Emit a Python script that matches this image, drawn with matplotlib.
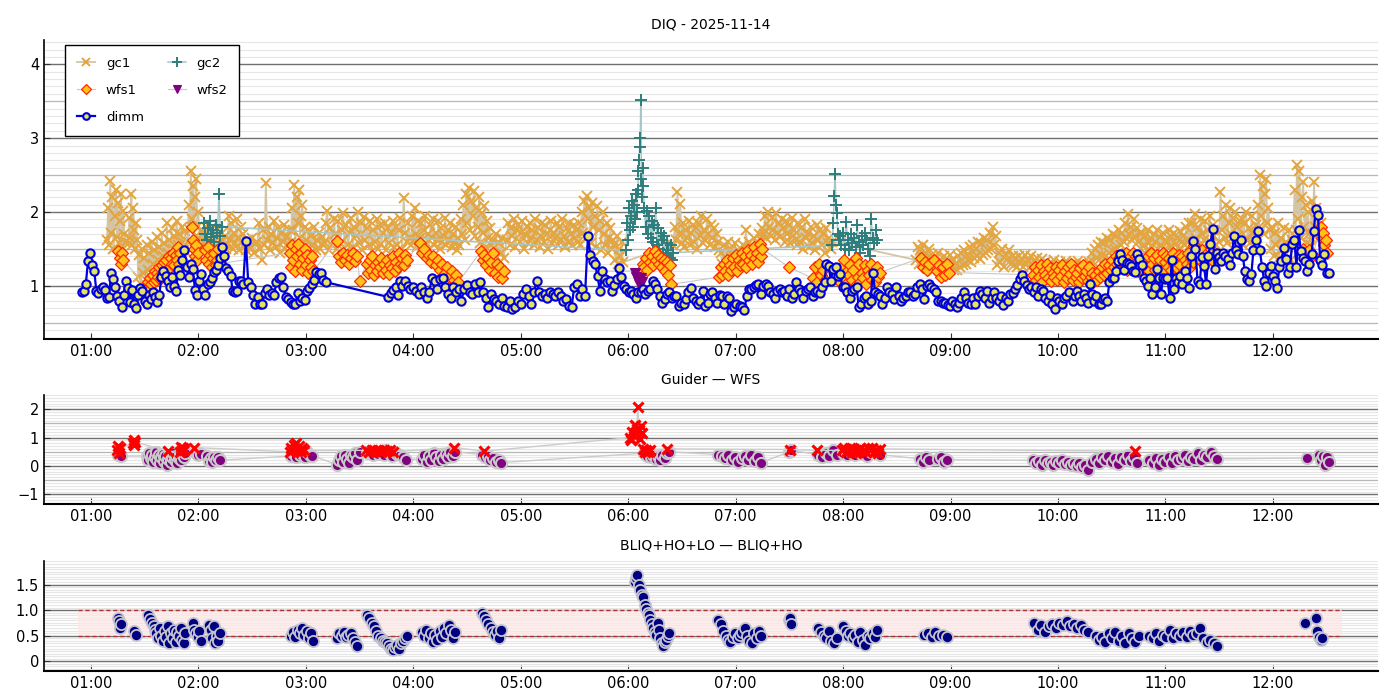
import numpy as np
import matplotlib
matplotlib.use("Agg")
import matplotlib.pyplot as plt
from matplotlib.ticker import MultipleLocator, FixedLocator, FixedFormatter

plt.rcParams['font.family'] = ['DejaVu Sans']

# ---------------- axis data ----------------
HOUR_TICKS = [1, 2, 3, 4, 5, 6, 7, 8, 9, 10, 11, 12]
HOUR_LABELS = ["01:00", "02:00", "03:00", "04:00", "05:00", "06:00",
               "07:00", "08:00", "09:00", "10:00", "11:00", "12:00"]
XLIM = (0.563, 12.98)

# ---------------- top panel: DIQ (time in hours, segments sampled at regular cadence) ----
DIMM_SEGS = [
    (0.914, 2.417, [0.92, 0.93, 1.03, 1.33, 1.44, 1.28, 1.20, 0.93, 0.90, 0.96,
                    0.98, 0.95, 0.84, 0.85, 1.18, 1.09, 0.98, 0.86, 0.80, 0.72,
                    0.88, 1.07, 0.97, 0.78, 0.95, 0.75, 0.70, 0.88, 0.97, 0.93,
                    0.80, 0.76, 0.87, 0.82, 0.91, 0.85, 0.78, 0.87, 1.12, 1.20,
                    1.14, 1.07, 0.98, 1.12, 1.00, 0.93, 1.21, 1.15, 1.35, 1.49,
                    1.26, 1.12, 1.30, 1.23, 0.95, 0.88, 1.06, 1.16, 0.96, 0.88,
                    1.03, 1.05, 1.10, 1.19, 1.22, 1.28, 1.38, 1.52, 1.40, 1.24,
                    1.20, 1.14, 0.93, 0.92, 0.93, 1.06, 1.07, 1.02]),
    (2.442, 3.186, [1.61, 1.05, 0.98, 0.88, 0.76, 0.85, 0.76, 0.76, 0.90, 0.96,
                    0.88, 0.90, 0.88, 1.05, 1.10, 1.12, 0.99, 0.85, 0.82, 0.78,
                    0.76, 0.75, 0.90, 0.80, 0.83, 0.81, 0.93, 0.97, 1.02, 1.08,
                    1.19, 1.16, 1.17, 1.08, 1.05]),
    (3.766, 3.859, [0.85, 0.90, 0.95, 0.99, 0.88]),
    (3.874, 5.598, [1.07, 1.00, 1.07, 1.00, 0.96, 0.99, 0.93, 0.89, 0.99, 0.91,
                    0.83, 0.92, 1.11, 1.07, 0.96, 1.09, 1.11, 0.98, 0.89, 0.84,
                    0.99, 0.91, 0.96, 0.80, 0.96, 1.01, 0.91, 0.89, 1.02, 0.91,
                    1.05, 0.91, 0.84, 0.72, 0.89, 0.82, 0.80, 0.75, 0.84, 0.73,
                    0.71, 0.80, 0.68, 0.71, 0.80, 0.76, 0.89, 0.96, 0.86, 0.75,
                    0.91, 1.06, 0.91, 0.86, 0.89, 0.84, 0.91, 0.89, 0.86, 0.91,
                    0.86, 0.80, 0.82, 0.73, 0.71, 0.98, 1.02, 0.86, 0.96, 0.86]),
    (5.626, 7.006, [1.68, 1.42, 1.34, 1.29, 1.13, 0.93, 1.20, 1.09, 1.05, 1.07,
                    0.93, 1.01, 1.09, 1.24, 1.12, 1.00, 0.96, 0.91, 0.93, 0.89,
                    0.84, 0.92, 0.91, 0.96, 0.89, 0.93, 0.96, 1.07, 1.02, 0.96,
                    0.86, 0.77, 0.82, 0.89, 0.91, 0.84, 0.86, 0.86, 0.73, 0.77,
                    0.75, 0.82, 0.91, 0.97, 0.84, 0.80, 0.75, 0.80, 0.93, 0.73,
                    0.77, 0.89, 0.91, 0.84, 0.77, 0.88, 0.86, 0.75, 0.86, 0.84,
                    0.66, 0.71, 0.75]),
    (7.037, 7.828, [0.73, 0.71, 0.67, 0.86, 0.96, 0.96, 0.99, 1.01, 1.03, 0.89,
                    1.00, 1.02, 1.00, 0.91, 0.89, 0.84, 0.93, 0.96, 0.91, 0.93,
                    0.86, 0.96, 0.84, 0.89, 1.05, 0.96, 0.91, 0.84, 0.93, 0.96,
                    0.98, 0.86, 0.91, 0.93, 0.90, 0.98, 1.05]),
    (7.843, 10.101, [1.29, 1.27, 1.07, 1.23, 1.25, 1.14, 1.16, 0.98, 0.98, 0.91,
                     0.84, 0.93, 0.96, 0.98, 0.71, 0.75, 0.84, 0.86, 0.75, 0.80,
                     1.18, 0.91, 0.89, 0.86, 0.75, 0.84, 0.98, 0.91, 0.89, 0.82,
                     0.98, 0.86, 0.80, 0.84, 0.86, 0.91, 0.92, 0.86, 0.89, 0.98,
                     1.03, 0.96, 0.82, 1.00, 1.02, 0.99, 0.96, 0.91, 0.80, 0.80,
                     0.77, 0.77, 0.74, 0.73, 0.80, 0.75, 0.71, 0.77, 0.83, 0.91,
                     0.84, 0.77, 0.75, 0.84, 0.75, 0.86, 0.93, 0.89, 0.84, 0.93,
                     0.77, 0.83, 0.91, 0.84, 0.80, 0.86, 0.74, 0.84, 0.80, 0.89,
                     0.90, 0.96, 1.01, 1.09, 1.15, 1.06, 1.01, 0.96, 0.98, 0.91,
                     0.98, 0.86, 0.96, 0.93, 0.84, 0.80, 0.88, 0.75, 0.68, 0.84,
                     0.80, 0.75, 0.84, 0.86, 0.91]),
    (10.138, 12.52, [0.80, 0.86, 0.93, 0.86, 0.80, 0.89, 0.84, 0.77, 1.02, 0.89,
                     0.80, 0.86, 0.76, 0.75, 0.82, 0.84, 0.80, 1.05, 1.10, 1.11,
                     1.20, 1.34, 1.43, 1.35, 1.21, 1.31, 1.29, 1.27, 1.20, 1.19,
                     1.43, 1.36, 1.28, 1.11, 1.07, 1.00, 1.11, 0.89, 0.98, 1.23,
                     1.11, 0.89, 1.11, 1.09, 1.11, 0.84, 1.35, 0.96, 1.11, 1.05,
                     1.14, 1.02, 1.20, 1.11, 0.97, 1.41, 1.61, 1.50, 1.07, 1.02,
                     1.39, 1.27, 1.02, 1.41, 1.57, 1.77, 1.23, 1.44, 1.39, 1.34,
                     1.45, 1.41, 1.36, 1.28, 1.44, 1.68, 1.48, 1.43, 1.62, 1.41,
                     1.20, 1.09, 1.07, 1.16, 1.48, 1.62, 1.74, 1.48, 1.25, 1.07,
                     1.00, 1.18, 1.27, 1.14, 1.07, 0.97, 1.25, 1.34, 1.51, 1.36,
                     1.17, 1.26, 1.57, 1.62, 1.25, 1.75, 1.47, 1.38, 1.34, 1.20,
                     1.29, 1.43, 1.74, 2.04, 1.96, 1.35, 1.28, 1.43, 1.18, 1.18]),
]

GC1_SEGS = [
    (1.15, 1.32, [1.62, 2.05, 1.55, 2.42, 1.72, 2.20, 1.50, 1.95, 2.30, 1.66, 2.12, 1.58,
                  1.88, 2.25, 1.52, 2.02, 1.70, 1.60]),
    (1.35, 1.43, [1.58, 1.92, 1.65, 2.25, 1.55, 2.05, 1.75, 1.50, 1.85, 1.62]),
    (1.44, 1.89, [1.12, 1.42, 1.02, 1.50, 1.18, 1.38, 1.08, 1.55, 1.22, 1.45, 1.12, 1.60,
                  1.30, 1.48, 1.15, 1.66, 1.35, 1.52, 1.20, 1.72, 1.40, 1.58, 1.25, 1.85,
                  1.45, 1.62, 1.32, 1.78, 1.50, 1.68, 1.38, 1.88, 1.55, 1.70, 1.42, 1.80,
                  1.60, 1.48, 1.74, 1.45]),
    (1.90, 2.01, [1.60, 2.10, 1.75, 2.56, 1.90, 2.35, 1.55, 2.20, 2.45, 1.80, 2.00, 1.65]),
    (2.02, 2.26, [1.55, 1.75, 1.48, 1.68, 1.80, 1.52, 1.62, 1.45, 1.78, 1.58, 1.70, 1.50,
                  1.65, 1.75, 1.48, 1.60, 1.72, 1.55, 1.68, 1.50]),
    (2.27, 2.43, [1.55, 1.95, 1.62, 1.85, 1.50, 1.72, 1.58, 1.90, 1.65, 1.48, 1.80, 1.60,
                  1.70, 1.52]),
    (2.44, 2.54, [1.48, 1.62, 1.52, 1.65, 1.45, 1.58]),
    (2.55, 2.85, [1.60, 1.85, 1.50, 1.35, 1.75, 1.55, 2.39, 1.62, 1.80, 1.48, 1.70, 1.58,
                  1.88, 1.52, 1.65, 1.78, 1.45, 1.72, 1.60, 1.82, 1.50, 1.68, 1.56, 1.75]),
    (2.86, 3.00, [1.60, 2.05, 1.75, 2.36, 1.55, 2.20, 1.85, 2.30, 1.65, 1.95, 2.10, 1.52,
                  1.80, 1.62]),
    (3.01, 3.16, [1.50, 1.75, 1.45, 1.68, 1.55, 1.80, 1.48, 1.62, 1.72, 1.50, 1.66, 1.55]),
    (3.17, 3.97, [1.60, 1.85, 2.02, 1.48, 1.78, 1.55, 1.90, 1.70, 1.50, 1.88, 1.58, 1.75,
                  1.99, 1.46, 1.82, 1.55, 1.72, 1.92, 1.52, 1.80, 1.68, 2.00, 1.58, 1.85,
                  1.48, 1.93, 1.62, 1.78, 1.55, 1.88, 1.47, 1.75, 1.60, 1.90, 1.50, 1.82,
                  1.56, 1.72, 1.85, 1.48, 1.78, 1.58, 1.70, 1.88, 1.52, 1.80, 1.55, 1.75,
                  1.92, 1.50, 2.19, 1.72, 1.60, 1.85, 1.65]),
    (3.98, 4.06, [1.55, 1.95, 1.62, 2.05, 1.70, 1.52, 1.88, 1.65]),
    (4.06, 4.42, [1.60, 1.85, 1.52, 1.75, 1.95, 1.58, 1.70, 1.50, 1.82, 1.65, 1.90, 1.55,
                  1.72, 1.62, 1.88, 1.50, 1.78, 1.60, 1.68, 1.92, 1.55, 1.75, 1.62, 1.85,
                  1.52, 1.70, 1.58, 1.80, 1.48, 1.65]),
    (4.43, 4.71, [1.55, 1.90, 1.70, 2.10, 1.62, 2.25, 1.85, 2.33, 1.75, 2.15, 1.95, 2.28,
                  1.68, 2.05, 1.80, 2.20, 1.58, 1.98, 1.72, 2.08, 1.52, 1.88, 1.65, 1.78]),
    (4.72, 4.84, [1.55, 1.35, 1.62, 1.42, 1.70, 1.30, 1.58, 1.45, 1.65, 1.38]),
    (4.87, 5.52, [1.62, 1.85, 1.55, 1.78, 1.68, 1.90, 1.52, 1.75, 1.82, 1.60, 1.72, 1.88,
                  1.50, 1.70, 1.80, 1.58, 1.85, 1.65, 1.75, 1.55, 1.90, 1.62, 1.78, 1.52,
                  1.68, 1.85, 1.60, 1.82, 1.70, 1.50, 1.75, 1.88, 1.58, 1.72, 1.65, 1.85,
                  1.55, 1.80, 1.62, 1.90, 1.68, 1.52, 1.78, 1.60, 1.85, 1.70, 1.55, 1.82,
                  1.65, 1.75]),
    (5.53, 5.86, [1.60, 1.85, 1.55, 2.00, 1.72, 2.15, 1.65, 2.22, 1.90, 2.05, 1.58, 2.12,
                  1.80, 1.95, 1.52, 2.08, 1.75, 1.88, 1.48, 2.00, 1.70, 1.55, 1.85, 1.45,
                  1.65, 1.78, 1.50, 1.62]),
    (5.87, 5.95, [1.55, 1.35, 1.68, 1.30, 1.50, 1.40, 1.60, 1.32]),
    (6.42, 6.85, [1.55, 1.80, 1.62, 2.27, 1.70, 2.11, 1.58, 1.85, 1.52, 1.75, 1.65, 1.88,
                  1.55, 1.72, 1.82, 1.60, 1.78, 1.50, 1.85, 1.68, 1.95, 1.58, 1.75, 1.62,
                  1.90, 1.70, 1.55, 1.82, 1.65, 1.78, 1.52, 1.70, 1.60, 1.48]),
    (6.86, 7.04, [1.45, 1.30, 1.55, 1.38, 1.60, 1.32, 1.50, 1.42, 1.58, 1.35, 1.48, 1.40]),
    (7.05, 7.25, [1.40, 1.55, 1.32, 1.75, 1.45, 1.60, 1.35, 1.52, 1.65, 1.40, 1.58, 1.70,
                  1.62, 1.78]),
    (7.26, 7.56, [1.70, 1.95, 1.65, 2.00, 1.80, 1.68, 1.92, 1.75, 1.62, 1.99, 1.72, 1.85,
                  1.66, 1.90, 1.78, 1.60, 1.88, 1.70, 1.82, 1.58, 1.92, 1.68, 1.76, 1.62]),
    (7.57, 7.90, [1.55, 1.85, 1.60, 1.78, 1.50, 1.90, 1.65, 1.72, 1.52, 1.80, 1.58, 1.68,
                  1.48, 1.82, 1.62, 1.75, 1.55, 1.70, 1.45, 1.78, 1.58, 1.65, 1.50, 1.60]),
    (8.68, 8.80, [1.35, 1.52, 1.30, 1.48, 1.40, 1.55, 1.32, 1.45, 1.38, 1.50]),
    (8.81, 9.05, [1.25, 1.42, 1.20, 1.38, 1.30, 1.45, 1.22, 1.35, 1.18, 1.40, 1.28, 1.32,
                  1.20, 1.42, 1.25, 1.36, 1.22, 1.30]),
    (9.06, 9.42, [1.22, 1.40, 1.25, 1.45, 1.28, 1.48, 1.30, 1.42, 1.35, 1.52, 1.32, 1.55,
                  1.38, 1.50, 1.40, 1.60, 1.36, 1.58, 1.42, 1.65, 1.45, 1.62, 1.48, 1.72,
                  1.50, 1.80, 1.55, 1.68]),
    (9.43, 9.58, [1.28, 1.45, 1.32, 1.50, 1.25, 1.42, 1.35, 1.48, 1.30, 1.40]),
    (9.59, 9.89, [1.28, 1.38, 1.25, 1.40, 1.32, 1.36, 1.26, 1.42, 1.30, 1.35, 1.24, 1.40,
                  1.28, 1.33, 1.22, 1.38, 1.30, 1.25, 1.36, 1.20, 1.32, 1.26]),
    (9.90, 10.29, [1.15, 1.30, 1.12, 1.28, 1.20, 1.35, 1.10, 1.25, 1.18, 1.32, 1.14, 1.26,
                   1.22, 1.34, 1.12, 1.28, 1.16, 1.30, 1.10, 1.24, 1.20, 1.33, 1.15, 1.27,
                   1.12, 1.30, 1.18, 1.25, 1.14, 1.32]),
    (10.30, 10.60, [1.30, 1.45, 1.32, 1.50, 1.38, 1.55, 1.35, 1.60, 1.42, 1.58, 1.40, 1.65,
                    1.45, 1.62, 1.48, 1.70, 1.50, 1.68, 1.45, 1.75, 1.55, 1.72]),
    (10.61, 10.76, [1.60, 1.85, 1.65, 1.97, 1.70, 1.80, 1.62, 1.90, 1.68, 1.78, 1.60, 1.72]),
    (10.77, 11.22, [1.50, 1.72, 1.55, 1.68, 1.48, 1.75, 1.58, 1.65, 1.52, 1.70, 1.60, 1.75,
                    1.50, 1.66, 1.55, 1.72, 1.48, 1.62, 1.58, 1.75, 1.52, 1.68, 1.45, 1.72,
                    1.56, 1.65, 1.50, 1.74, 1.60, 1.68, 1.55, 1.80, 1.62, 1.85]),
    (11.23, 11.47, [1.55, 1.85, 1.60, 1.97, 1.65, 1.80, 1.52, 1.90, 1.70, 1.62, 1.88, 1.58,
                    1.75, 1.95, 1.60, 1.82, 1.68, 1.55]),
    (11.50, 11.69, [1.60, 2.27, 1.75, 1.95, 1.65, 2.10, 1.58, 1.85, 2.05, 1.70, 1.92, 1.62,
                    2.00, 1.80, 1.68, 1.88]),
    (11.70, 11.84, [1.60, 1.90, 1.55, 1.85, 2.00, 1.65, 1.78, 1.58, 1.95, 1.70, 1.62, 1.82]),
    (11.85, 11.97, [1.65, 2.10, 1.80, 2.50, 1.95, 2.35, 1.70, 2.25, 2.45, 1.85, 2.05, 1.75]),
    (11.98, 12.18, [1.50, 1.80, 1.40, 1.72, 1.55, 1.85, 1.38, 1.65, 1.48, 1.78, 1.42, 1.60,
                    1.52, 1.75, 1.35, 1.62]),
    (12.19, 12.34, [1.60, 2.30, 1.75, 2.63, 1.90, 2.55, 1.65, 2.20, 2.40, 1.80, 2.10, 1.58,
                    2.00, 1.70]),
    (12.35, 12.45, [1.55, 2.15, 1.70, 2.40, 1.80, 2.05, 1.62, 1.95, 1.75, 1.85]),
]

GC2_SEGS = [
    (2.05, 2.22, [1.85, 1.70, 1.62, 1.78, 1.88, 1.66, 1.75, 1.60, 1.82, 1.72, 2.25, 1.68, 1.80]),
    (5.98, 6.08, [1.48, 1.85, 1.62, 2.05, 1.75, 1.95, 2.15, 1.80, 2.10, 1.90, 2.25, 2.00]),
    (6.09, 6.14, [2.30, 2.55, 2.70, 2.88, 3.00, 3.52, 2.45, 2.20, 2.60, 2.35]),
    (6.15, 6.42, [2.05, 1.80, 2.02, 1.70, 1.95, 1.65, 1.88, 1.60, 1.82, 2.05, 1.55, 1.78,
                  1.50, 1.72, 1.62, 1.45, 1.68, 1.40, 1.58, 1.48, 1.38, 1.55, 1.35, 1.45]),
    (7.90, 7.96, [1.55, 1.85, 2.22, 2.52, 2.09, 1.98, 1.70, 1.62]),
    (7.97, 8.32, [1.68, 1.55, 1.72, 1.50, 1.87, 1.62, 1.48, 1.70, 1.58, 1.65, 1.52, 1.83,
                  1.60, 1.45, 1.68, 1.55, 1.72, 1.62, 1.50, 1.40, 1.90, 1.65, 1.58, 1.75, 1.62]),
]

WFS1_SEGS = [
    (1.255, 1.30, [1.47, 1.38, 1.30, 1.45, 1.35]),
    (1.52, 1.83, [0.98, 1.05, 0.95, 1.10, 1.02, 1.15, 1.05, 1.20, 1.08, 1.18, 1.12, 1.25,
                  1.10, 1.28, 1.18, 1.32, 1.15, 1.35, 1.22, 1.40, 1.25, 1.38, 1.30, 1.45,
                  1.28, 1.42, 1.35, 1.52, 1.30, 1.45]),
    (1.94, 2.00, [1.80, 1.62, 1.50, 1.40, 1.55, 1.35, 1.45]),
    (2.06, 2.20, [1.48, 1.35, 1.52, 1.30, 1.42, 1.25, 1.38, 1.45, 1.28, 1.35, 1.50, 1.30]),
    (2.85, 3.07, [1.45, 1.25, 1.55, 1.35, 1.20, 1.50, 1.40, 1.57, 1.30, 1.45, 1.22, 1.38,
                  1.50, 1.28, 1.42, 1.18, 1.35, 1.25, 1.40, 1.20]),
    (3.29, 3.50, [1.61, 1.40, 1.32, 1.45, 1.35, 1.42, 1.30, 1.38, 1.44, 1.33, 1.40, 1.07]),
    (3.565, 3.94, [1.30, 1.18, 1.35, 1.22, 1.40, 1.15, 1.28, 1.20, 1.32, 1.25, 1.38, 1.18,
                   1.30, 1.22, 1.35, 1.16, 1.28, 1.24, 1.40, 1.20, 1.32, 1.26, 1.45, 1.30,
                   1.38, 1.28, 1.42, 1.35]),
    (4.06, 4.42, [1.58, 1.45, 1.50, 1.38, 1.42, 1.32, 1.40, 1.28, 1.35, 1.22, 1.30, 1.18,
                  1.25, 1.12, 1.20, 1.08, 1.15, 1.05]),
    (4.63, 4.84, [1.47, 1.35, 1.42, 1.28, 1.38, 1.22, 1.32, 1.45, 1.18, 1.30, 1.12, 1.25,
                  1.10, 1.20]),
    (6.12, 6.40, [1.20, 1.30, 1.25, 1.38, 1.22, 1.45, 1.32, 1.40, 1.28, 1.47, 1.35, 1.42,
                  1.30, 1.38, 1.25, 1.35, 1.20, 1.32, 1.15, 1.28, 1.02]),
    (6.85, 7.25, [1.12, 1.25, 1.15, 1.30, 1.20, 1.35, 1.15, 1.28, 1.22, 1.38, 1.25, 1.42,
                  1.20, 1.35, 1.28, 1.45, 1.30, 1.40, 1.25, 1.48, 1.35, 1.42, 1.30, 1.52,
                  1.38, 1.45, 1.32, 1.57, 1.40, 1.50]),
    (7.50, 7.50, [1.25]),
    (7.72, 7.85, [1.10, 1.25, 1.05, 1.30, 1.15, 1.22, 1.08, 1.28]),
    (7.97, 8.34, [1.05, 1.25, 1.10, 1.35, 1.02, 1.20, 1.15, 1.28, 1.08, 1.22, 1.00, 1.38,
                  1.12, 1.30, 1.05, 1.18, 1.10, 1.28, 1.02, 1.22, 1.15, 1.30, 1.08, 1.20,
                  1.05, 1.25, 1.12, 1.18]),
    (8.73, 8.80, [1.38, 1.25, 1.32, 1.22, 1.30]),
    (8.85, 8.99, [1.35, 1.20, 1.28, 1.12, 1.25, 1.15, 1.30, 1.18]),
    (9.77, 10.32, [1.15, 1.25, 1.08, 1.22, 1.12, 1.28, 1.05, 1.20, 1.15, 1.30, 1.10, 1.24,
                   1.06, 1.18, 1.12, 1.26, 1.08, 1.22, 1.14, 1.28, 1.05, 1.20, 1.10, 1.25,
                   1.16, 1.30, 1.08, 1.22, 1.12, 1.18, 1.05, 1.24, 1.10, 1.28, 1.14, 1.20,
                   1.06, 1.25, 1.12, 1.18]),
    (10.33, 10.57, [1.05, 1.15, 1.08, 1.20, 1.12, 1.25, 1.15, 1.30, 1.18, 1.28, 1.22, 1.35,
                    1.25, 1.40, 1.30, 1.38]),
    (10.58, 10.76, [1.25, 1.42, 1.30, 1.45, 1.22, 1.38, 1.32, 1.44, 1.28, 1.40, 1.20, 1.35]),
    (10.82, 11.27, [1.25, 1.40, 1.20, 1.45, 1.30, 1.38, 1.22, 1.42, 1.28, 1.35, 1.20, 1.44,
                    1.32, 1.40, 1.25, 1.38, 1.22, 1.45, 1.30, 1.36, 1.24, 1.42, 1.28, 1.40,
                    1.20, 1.35, 1.30, 1.44, 1.25, 1.38, 1.32, 1.55]),
    (11.32, 11.47, [1.35, 1.48, 1.30, 1.45, 1.38, 1.50, 1.32, 1.42]),
    (12.28, 12.37, [1.50, 1.45, 1.48, 1.42]),
    (12.45, 12.50, [1.80, 1.65, 1.72, 1.55, 1.62, 1.45]),
]

WFS2_SEGS = [
    (6.06, 6.13, [1.18, 1.12, 1.06, 1.03, 1.10, 1.05]),
]

# ---------------- middle panel: Guider - WFS ----------------
GW_PURPLE_SEGS = [
    (1.25, 1.28, [0.38, 0.42, 0.35]),
    (1.52, 1.88, [0.35, 0.20, 0.45, 0.28, 0.40, 0.15, 0.32, 0.48, 0.22, 0.38, 0.10, 0.30,
                  0.42, 0.18, 0.35, 0.02, 0.25, 0.40, 0.15, 0.30, 0.45, 0.20, 0.35, 0.12,
                  0.28, 0.42, 0.22, 0.38, 0.30, 0.45]),
    (1.98, 2.02, [0.45, 0.38, 0.42]),
    (2.08, 2.20, [0.35, 0.18, 0.28, 0.15, 0.32, 0.22, 0.30, 0.20]),
    (2.86, 3.06, [0.35, 0.45, 0.30, 0.50, 0.38, 0.42, 0.32, 0.48, 0.40, 0.36]),
    (3.29, 3.50, [0.05, 0.20, 0.35, 0.15, 0.40, 0.25, 0.10, 0.38, 0.30, 0.45, 0.20, 0.50]),
    (3.57, 3.93, [0.45, 0.50, 0.38, 0.52, 0.42, 0.48, 0.40, 0.55, 0.45, 0.35, 0.50, 0.42,
                  0.38, 0.30, 0.22]),
    (4.08, 4.39, [0.25, 0.40, 0.15, 0.35, 0.20, 0.45, 0.30, 0.18, 0.38, 0.25, 0.42, 0.32,
                  0.48, 0.35, 0.50]),
    (4.64, 4.82, [0.40, 0.30, 0.35, 0.20, 0.28, 0.15, 0.22, 0.12]),
    (6.15, 6.38, [0.45, 0.35, 0.50, 0.30, 0.40, 0.25, 0.35, 0.20, 0.38, 0.28, 0.45, 0.50]),
    (6.84, 7.24, [0.40, 0.35, 0.28, 0.38, 0.20, 0.32, 0.15, 0.28, 0.35, 0.22, 0.40, 0.18,
                  0.30, 0.12]),
    (7.50, 7.52, [0.50, 0.55]),
    (7.77, 7.94, [0.40, 0.30, 0.45, 0.35, 0.55, 0.40]),
    (8.00, 8.34, [0.45, 0.40, 0.50, 0.38, 0.48, 0.42, 0.35, 0.50, 0.45, 0.40]),
    (8.72, 8.80, [0.25, 0.15, 0.30, 0.20]),
    (8.88, 8.97, [0.25, 0.30, 0.15, 0.22]),
    (9.77, 10.28, [0.20, 0.10, 0.18, 0.05, 0.22, 0.12, 0.15, 0.02, 0.18, 0.10, 0.20, 0.08,
                   0.15, 0.05, 0.12, 0.00, 0.10, -0.05, 0.05, -0.15]),
    (10.32, 10.74, [0.15, 0.25, 0.10, 0.30, 0.20, 0.35, 0.15, 0.28, 0.08, 0.32, 0.22, 0.38,
                    0.18, 0.30, 0.12]),
    (10.85, 11.48, [0.20, 0.10, 0.28, 0.05, 0.25, 0.15, 0.30, 0.12, 0.35, 0.20, 0.28, 0.40,
                    0.18, 0.32, 0.25, 0.45, 0.22, 0.38, 0.30, 0.50, 0.35, 0.25]),
    (12.32, 12.32, [0.28]),
    (12.43, 12.52, [0.40, 0.20, 0.35, 0.05, 0.30, 0.15]),
]

GW_RED_SEGS = [
    (1.24, 1.27, [0.55, 0.70, 0.45, 0.62]),
    (1.39, 1.41, [0.80, 0.90, 0.75, 0.85]),
    (1.72, 1.72, [0.52]),
    (1.83, 1.87, [0.50, 0.68, 0.58, 0.65, 0.55]),
    (1.96, 1.96, [0.65]),
    (2.85, 2.98, [0.50, 0.65, 0.55, 0.75, 0.60, 0.80, 0.52, 0.70, 0.58, 0.48, 0.62, 0.55]),
    (3.56, 3.81, [0.55, 0.50, 0.58, 0.52, 0.55, 0.48, 0.56, 0.52, 0.58, 0.50]),
    (4.38, 4.38, [0.65]),
    (4.66, 4.66, [0.52]),
    (6.02, 6.13, [1.00, 0.90, 1.20, 1.05, 1.45, 1.10, 1.30, 2.08, 1.25, 0.95, 1.40, 1.15]),
    (6.14, 6.20, [0.60, 0.50, 0.55, 0.48, 0.58]),
    (6.36, 6.36, [0.60]),
    (7.51, 7.51, [0.58]),
    (7.76, 7.76, [0.55]),
    (7.99, 8.34, [0.55, 0.62, 0.48, 0.58, 0.65, 0.50, 0.60, 0.45, 0.55, 0.63, 0.52, 0.58,
                  0.48, 0.62, 0.55, 0.65, 0.50, 0.57, 0.47, 0.60]),
    (10.72, 10.72, [0.52]),
]

# ---------------- bottom panel: BLIQ+HO+LO - BLIQ+HO ----------------
BLIQ_SEGS = [
    (1.25, 1.28, [0.85, 0.78, 0.65, 0.72]),
    (1.40, 1.42, [0.60, 0.52]),
    (1.53, 1.60, [0.90, 0.82, 0.75, 0.68, 0.62]),
    (1.61, 1.88, [0.55, 0.45, 0.65, 0.50, 0.40, 0.60, 0.48, 0.68, 0.35, 0.55, 0.45, 0.62,
                  0.38, 0.58, 0.50, 0.65, 0.42, 0.35, 0.55]),
    (1.95, 2.02, [0.75, 0.62, 0.55, 0.48, 0.60, 0.40]),
    (2.10, 2.20, [0.70, 0.62, 0.45, 0.68, 0.35, 0.50, 0.40, 0.55]),
    (2.86, 3.07, [0.50, 0.58, 0.48, 0.62, 0.55, 0.65, 0.52, 0.60, 0.45, 0.55, 0.40]),
    (3.29, 3.48, [0.45, 0.55, 0.50, 0.58, 0.48, 0.52, 0.55, 0.45, 0.38, 0.30]),
    (3.57, 3.76, [0.90, 0.85, 0.75, 0.68, 0.60, 0.50, 0.45, 0.40, 0.38, 0.35]),
    (3.77, 3.94, [0.30, 0.25, 0.22, 0.28, 0.32, 0.25, 0.35, 0.40, 0.45, 0.50]),
    (4.08, 4.39, [0.58, 0.50, 0.62, 0.45, 0.55, 0.38, 0.52, 0.42, 0.60, 0.48, 0.65, 0.55,
                  0.70, 0.62, 0.45, 0.58]),
    (4.64, 4.82, [0.95, 0.88, 0.80, 0.72, 0.65, 0.58, 0.52, 0.60, 0.45, 0.62]),
    (6.06, 6.38, [1.55, 1.62, 1.68, 1.50, 1.40, 1.30, 1.25, 1.10, 1.02, 0.95, 0.90, 0.80,
                  0.72, 0.65, 0.58, 0.52, 0.75, 0.62, 0.45, 0.35, 0.30, 0.38, 0.42, 0.50,
                  0.55]),
    (6.84, 7.24, [0.80, 0.72, 0.60, 0.50, 0.42, 0.38, 0.48, 0.55, 0.45, 0.52, 0.58, 0.65,
                  0.50, 0.40, 0.35, 0.55, 0.45, 0.60, 0.50]),
    (7.50, 7.52, [0.80, 0.85, 0.72]),
    (7.77, 7.94, [0.65, 0.58, 0.50, 0.45, 0.60, 0.40, 0.35, 0.45]),
    (8.00, 8.32, [0.68, 0.60, 0.50, 0.55, 0.45, 0.52, 0.38, 0.58, 0.42, 0.32, 0.50, 0.45,
                  0.55, 0.48, 0.62]),
    (8.75, 8.97, [0.52, 0.55, 0.48, 0.58, 0.50, 0.52, 0.48]),
    (9.78, 10.28, [0.75, 0.62, 0.70, 0.58, 0.68, 0.72, 0.65, 0.75, 0.70, 0.78, 0.68, 0.72,
                   0.65, 0.70, 0.62, 0.58]),
    (10.35, 10.75, [0.50, 0.42, 0.48, 0.38, 0.55, 0.45, 0.58, 0.40, 0.50, 0.35, 0.55, 0.45,
                    0.38, 0.50]),
    (10.85, 11.48, [0.50, 0.45, 0.55, 0.40, 0.52, 0.48, 0.62, 0.45, 0.55, 0.50, 0.58, 0.48,
                    0.60, 0.52, 0.55, 0.65, 0.45, 0.38, 0.42, 0.35, 0.30]),
    (12.30, 12.30, [0.75]),
    (12.40, 12.46, [0.85, 0.60, 0.48, 0.42, 0.45]),
]

BAND_T = [0.88, 12.64]
BAND_LOW, BAND_HIGH = 0.5, 1.0


def series(segs):
    ts, vs = [], []
    for t0, t1, vals in segs:
        ts.append(np.linspace(t0, t1, len(vals)))
        vs.append(np.asarray(vals, dtype=float))
    return np.concatenate(ts), np.concatenate(vs)


def style_axes(ax, ylim, major_locator, minor_step, halves, title):
    ax.set_xlim(*XLIM)
    ax.set_ylim(*ylim)
    for s in ("top", "right"):
        ax.spines[s].set_visible(False)
    ax.spines["left"].set_linewidth(1.2)
    ax.spines["bottom"].set_linewidth(1.5)
    ax.xaxis.set_major_locator(FixedLocator(HOUR_TICKS))
    ax.xaxis.set_major_formatter(FixedFormatter(HOUR_LABELS))
    ax.yaxis.set_major_locator(major_locator)
    ax.yaxis.set_minor_locator(MultipleLocator(minor_step))
    ax.tick_params(axis="both", which="major", direction="in", length=4, labelsize=10.5,
                   color="#333333")
    ax.tick_params(axis="y", which="minor", length=0)
    ax.grid(True, axis="y", which="minor", color="#e6e6e6", lw=0.8)
    ax.grid(True, axis="y", which="major", color="#707070", lw=1.0)
    for h in halves:
        ax.axhline(h, color="#b8b8b8", lw=0.9, zorder=0.6)
    ax.set_axisbelow(True)
    ax.set_title(title, fontsize=10, pad=8)


fig = plt.figure(figsize=(14, 7), dpi=100)
ax1 = fig.add_axes([0.0314, 0.5157, 0.953, 0.4272])
ax2 = fig.add_axes([0.0314, 0.2800, 0.953, 0.1557])
ax3 = fig.add_axes([0.0314, 0.0414, 0.953, 0.1572])

# ---- top panel ----
style_axes(ax1, (0.28, 4.33), MultipleLocator(1.0), 0.1, [0.5, 1.5, 2.5, 3.5],
           "DIQ - 2025-11-14")
t, v = series(GC1_SEGS)
l_gc1, = ax1.plot(t, v, color="#d3c4a6", lw=1.3, marker="x", ms=6.5, mew=1.4,
                  mec="#e3a540", mfc="#e3a540", label="gc1", zorder=2)
t, v = series(GC2_SEGS)
l_gc2, = ax1.plot(t, v, color="#a9c6c6", lw=1.1, marker="+", ms=9, mew=1.4,
                  mec="#2e7d7d", label="gc2", zorder=2.2)
t, v = series(WFS1_SEGS)
l_wfs1, = ax1.plot(t, v, color="#c8c8c8", lw=0.8, marker="D", ms=6.5, mew=0.9,
                   mfc="#ffc21a", mec="#ff2a00", label="wfs1", zorder=2.5)
t, v = series(WFS2_SEGS)
l_wfs2, = ax1.plot(t, v, color="#c8c8c8", lw=0.8, marker="v", ms=6.5, mew=0.8,
                   mfc="#800080", mec="#800080", label="wfs2", zorder=2.6)
t, v = series(DIMM_SEGS)
l_dimm, = ax1.plot(t, v, color="#0000dd", lw=1.6, marker="o", ms=6, mew=1.5,
                   mfc="#e4e460", mec="#0000dd", label="dimm", zorder=3)
leg = ax1.legend(handles=[l_gc1, l_wfs1, l_dimm, l_gc2, l_wfs2], loc="upper left",
                 bbox_to_anchor=(0.0157, 0.983), borderaxespad=0.0, ncol=2, fontsize=9.5,
                 frameon=True, fancybox=False, edgecolor="black", framealpha=1.0,
                 borderpad=0.9, labelspacing=1.05, columnspacing=1.8, handlelength=1.4,
                 handletextpad=0.8, markerscale=0.8)
leg.get_frame().set_linewidth(1.0)

# ---- middle panel ----
style_axes(ax2, (-1.34, 2.5), MultipleLocator(1.0), 0.1, [-0.5, 0.5, 1.5],
           "Guider — WFS")
t, v = series(GW_PURPLE_SEGS)
ax2.plot(t, v, color="#cccccc", lw=1.0, marker="o", ms=8, mew=1.5,
         mfc="#800080", mec="#c8c8c8", zorder=2)
t, v = series(GW_RED_SEGS)
ax2.plot(t, v, color="#cccccc", lw=1.0, marker="x", ms=7, mew=2.2,
         mec="#ff0000", zorder=3)

# ---- bottom panel ----
style_axes(ax3, (-0.19, 1.96), FixedLocator([0.0, 0.5, 1.0, 1.5]), 0.05, [],
           "BLIQ+HO+LO — BLIQ+HO")
ax3.yaxis.set_major_formatter(FixedFormatter(["0", "0.5", "1.0", "1.5"]))
ax3.fill_between(BAND_T, BAND_LOW, BAND_HIGH, color="#fde6e6", alpha=0.7, lw=0, zorder=1)
ax3.hlines([BAND_LOW, BAND_HIGH], BAND_T[0], BAND_T[1], colors="#b03030", lw=1.0,
           linestyles=(0, (3, 2)), zorder=1.5)
t, v = series(BLIQ_SEGS)
ax3.plot(t, v, linestyle="none", marker="o", ms=8, mew=1.3,
         mfc="#000080", mec="#c4c4d0", zorder=3)

fig.savefig("out.png", dpi=100)
